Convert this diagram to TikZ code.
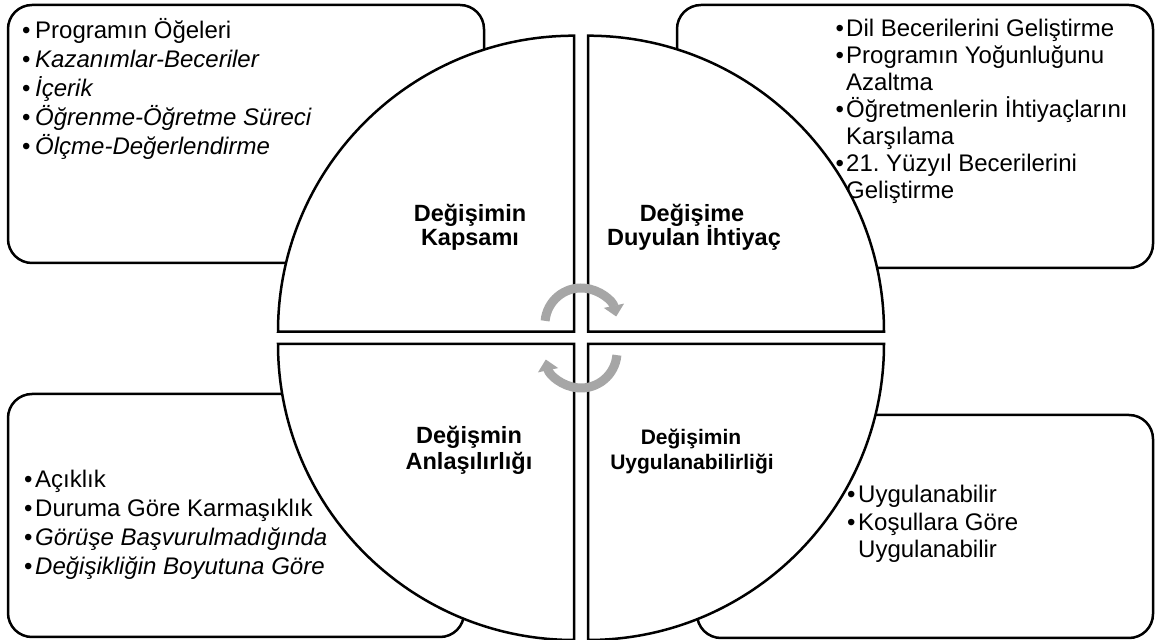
\documentclass[tikz,border=0pt]{standalone}
\usepackage{fontspec}
\setmainfont{Liberation Sans}
\usetikzlibrary{arrows.meta}
\definecolor{arrowgray}{RGB}{166,166,166}
\newcommand\bul[1]{\makebox[#1][l]{•}}
\frenchspacing
\begin{document}
\begin{tikzpicture}[x=1pt,y=1pt,
  box/.style={draw=black, line width=2.5pt, rounded corners=24pt, fill=white, inner sep=0pt},
  quad/.style={draw=black, line width=2.5pt, fill=white, line join=miter},
  item/.style={anchor=base west, inner sep=0pt, font=\fontsize{24}{28}\selectfont},
  lab/.style={anchor=base, inner sep=0pt, font=\fontsize{23.5}{28}\selectfont\bfseries},
  labs/.style={anchor=base, inner sep=0pt, font=\fontsize{21}{26}\selectfont\bfseries},
  cyc/.style={draw=arrowgray, line width=9pt, -{Triangle[length=11pt,width=20pt]}}]
\useasboundingbox (0,0) rectangle (1163,640);
% corner boxes
\node[box, minimum width=476pt, minimum height=258pt] (tlbox) at (246,506) {};
\node[box, minimum width=476pt, minimum height=263pt] (trbox) at (915,503.5) {};
\node[box, minimum width=456pt, minimum height=243pt] (blbox) at (236,124.5) {};
\node[box, minimum width=456pt, minimum height=223pt] (brbox) at (925,113.5) {};
% top-left text
\node[item] (tl1) at (22,601) {\bul{13pt}Programın Öğeleri};
\node[item] (tl2) at (22,572) {\bul{13pt}\itshape Kazanımlar-Beceriler};
\node[item] (tl3) at (22,543) {\bul{13pt}\itshape İçerik};
\node[item] (tl4) at (22,514) {\bul{13pt}\itshape Öğrenme-Öğretme Süreci};
\node[item] (tl5) at (22,485) {\bul{13pt}\itshape Ölçme-Değerlendirme};
% top-right text
\node[item] (tr1) at (835.5,603.5) {\bul{10.5pt}Dil Becerilerini Geliştirme};
\node[item] (tr2) at (835.5,576.5) {\bul{10.5pt}Programın Yoğunluğunu};
\node[item] (tr3) at (846,549.5) {Azaltma};
\node[item] (tr4) at (835.5,522.5) {\bul{10.5pt}Öğretmenlerin İhtiyaçlarını};
\node[item] (tr5) at (846,495.5) {Karşılama};
\node[item] (tr6) at (835.5,468.5) {\bul{10.5pt}21. Yüzyıl Becerilerini};
\node[item] (tr7) at (846,441.5) {Geliştirme};
% bottom-left text
\node[item] (bl1) at (24,152) {\bul{11pt}Açıklık};
\node[item] (bl2) at (24,123) {\bul{11pt}Duruma Göre Karmaşıklık};
\node[item] (bl3) at (24,94) {\bul{11pt}\itshape Görüşe Başvurulmadığında};
\node[item] (bl4) at (24,65) {\bul{11pt}\itshape Değişikliğin Boyutuna Göre};
% bottom-right text
\node[item] (br1) at (847,137) {\bul{11pt}Uygulanabilir};
\node[item] (br2) at (847,109.5) {\bul{11pt}Koşullara Göre};
\node[item] (br3) at (858,82) {Uygulanabilir};
% quadrants
\draw[quad] (574,308.3) -- (278,308.3) arc[start angle=180, end angle=90, radius=296pt] -- cycle;
\draw[quad] (588,308.3) -- (588,604.3) arc[start angle=90, end angle=0, radius=296pt] -- cycle;
\draw[quad] (574,296) -- (278,296) arc[start angle=180, end angle=270, radius=296pt] -- cycle;
\draw[quad] (588,296) -- (884,296) arc[start angle=0, end angle=-90, radius=296pt] -- cycle;
% quadrant labels
\node[lab] (q1a) at (470,418) {Değişimin};
\node[lab] (q1b) at (470,394) {Kapsamı};
\node[lab] (q2a) at (692,418) {Değişime};
\node[lab] (q2b) at (694,394) {Duyulan İhtiyaç};
\node[lab] (q3a) at (469,196) {Değişmin};
\node[lab] (q3b) at (469,170) {Anlaşılırlığı};
\node[labs] (q4a) at (691,195) {Değişimin};
\node[labs] (q4b) at (692,170) {Uygulanabilirliği};
% cycle arrows
\coordinate (ctop) at (581,316);
\coordinate (cbot) at (581,288);
\draw[cyc] ([shift={(175:36pt)}]ctop) arc[start angle=175, end angle=12, radius=36pt];
\draw[cyc] ([shift={(-5:36pt)}]cbot) arc[start angle=-5, end angle=-168, radius=36pt];
\end{tikzpicture}
\end{document}
